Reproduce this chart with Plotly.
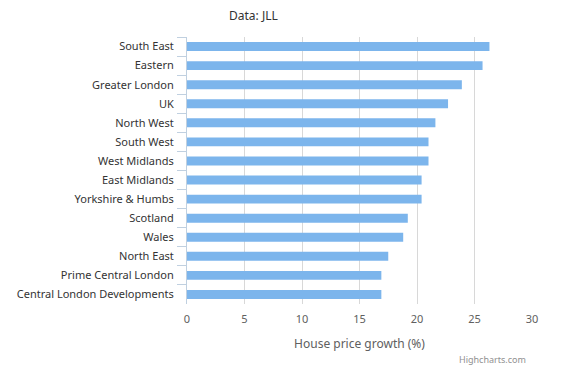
import plotly.graph_objects as go

categories = ["South East", "Eastern", "Greater London", "UK", "North West", "South West",
              "West Midlands", "East Midlands", "Yorkshire & Humbs", "Scotland", "Wales",
              "North East", "Prime Central London", "Central London Developments"]
growth = [26.3, 25.7, 23.9, 22.7, 21.6, 21.0, 21.0, 20.4, 20.4, 19.2, 18.8, 17.5, 16.9, 16.9]
x_ticks = [0, 5, 10, 15, 20, 25, 30]

FONT = "Noto Sans"

OFF = 8  # default page body margin
W, H = 563 - OFF, 383 - OFF
L, T = 187 - OFF, 37 - OFF
R = 31
B = 383 - 304
pw = W - L - R
ph = H - T - B


def px_x(x):
    return (x - OFF - L) / pw


def px_y(y_from_top):
    return (H - (y_from_top - OFF) - B) / ph


fig = go.Figure(go.Bar(
    x=growth, y=categories, orientation="h",
    marker=dict(color="#7CB5EC", line=dict(width=0)),
    width=0.47, hoverinfo="x+y",
))

fig.update_layout(
    template="none",
    width=W, height=H,
    margin=dict(l=L, r=R, t=T, b=B, pad=0),
    paper_bgcolor="white", plot_bgcolor="white",
    showlegend=False,
    font=dict(family=FONT, size=11, color="#333333"),
    xaxis=dict(
        range=[0, 30], tickvals=x_ticks, ticktext=[str(v) for v in x_ticks],
        showgrid=True, gridcolor="#D8D8D8", gridwidth=1,
        zeroline=False, showline=False, ticks="",
        automargin=False, ticklabelstandoff=7,
        tickfont=dict(family=FONT, size=11, color="#606060"),
        title=dict(text="House price growth (%)", font=dict(family=FONT, size=12, color="#606060"), standoff=14),
        fixedrange=True,
    ),
    yaxis=dict(
        categoryorder="array", categoryarray=categories, autorange="reversed",
        showgrid=False, zeroline=False,
        showline=True, linecolor="#C0D0E0", linewidth=1,
        ticks="outside", tickson="boundaries", ticklen=9, tickcolor="#C0D0E0", tickwidth=1,
        automargin=False, ticklabelstandoff=10,
        tickfont=dict(family=FONT, size=11, color="#333333"),
        fixedrange=True,
    ),
    annotations=[
        dict(text="Data: JLL", x=px_x(253), y=px_y(15), xref="paper", yref="paper", showarrow=False,
             font=dict(family=FONT, size=12, color="#333333"), xanchor="center", yanchor="middle"),
        dict(text="Highcharts.com", x=px_x(528), y=px_y(359), xref="paper", yref="paper", showarrow=False,
             font=dict(family=FONT, size=9, color="#909090"), xanchor="right", yanchor="middle"),
    ],
)

fig.write_html("out.html")
